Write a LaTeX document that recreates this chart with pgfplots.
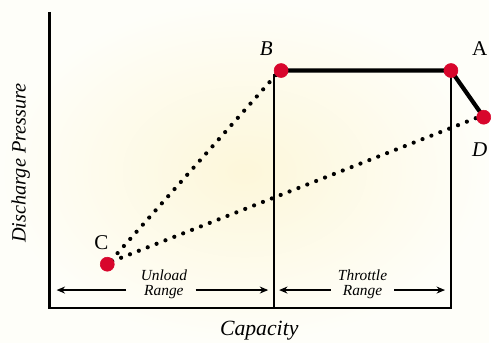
\documentclass[border=0pt]{standalone}
\usepackage{pgfplots}
\pgfplotsset{compat=1.18}
\usepackage{fontspec}
\setmainfont{Liberation Serif}
\usetikzlibrary{arrows.meta}
\definecolor{dotred}{HTML}{D8062C}
\definecolor{bgin}{HTML}{FDF7DA}
\definecolor{bgout}{HTML}{FEFEF9}
\begin{document}
\begin{tikzpicture}
\begin{axis}[
  width=348.8pt, height=244.6pt, scale only axis,
  xmin=0, xmax=492, ymin=0, ymax=345,
  hide axis, clip=false,
]
\shade[inner color=bgin, outer color=bgout] (rel axis cs:0,0) rectangle (rel axis cs:1,1);
% axis frame
\addplot[black, line width=1.8pt, line join=miter] coordinates {(50,333) (50,35) (455,35)};
\addplot[black, line width=1.3pt] coordinates {(276,35) (276,270)};
\addplot[black, line width=1.3pt] coordinates {(454,35) (454,272)};
% dotted lines
\addplot[black, line width=3pt, line cap=round, dash pattern=on 0pt off 6.8pt] coordinates {(112,83) (280,272)};
\addplot[black, line width=3pt, line cap=round, dash pattern=on 0pt off 6.8pt] coordinates {(113,82) (484,228)};
% solid thick
\addplot[black, line width=3pt] coordinates {(283,274) (454,274) (487,227)};
% points
\addplot[only marks, mark=*, mark size=5pt, dotred, mark options={draw=none, fill=dotred}] coordinates {(108,79) (283,274) (454,274) (487,227)};
% range arrows
\addplot[black, line width=0.8pt, -{Stealth[length=6pt,width=5pt]}] coordinates {(127,53) (57,53)};
\addplot[black, line width=0.8pt, -{Stealth[length=6pt,width=5pt]}] coordinates {(197,53) (270,53)};
\addplot[black, line width=0.8pt, -{Stealth[length=6pt,width=5pt]}] coordinates {(333,53) (281,53)};
\addplot[black, line width=0.8pt, -{Stealth[length=6pt,width=5pt]}] coordinates {(397,53) (448,53)};
% labels
\node[font=\fontsize{11}{10.5}\selectfont\itshape, align=center, inner sep=0pt] at (axis cs:165,59) {Unload\\Range};
\node[font=\fontsize{11}{10.5}\selectfont\itshape, align=center, inner sep=0pt] at (axis cs:365,59) {Throttle\\Range};
\node[font=\fontsize{15}{18}\selectfont] at (axis cs:102,101) {C};
\node[font=\fontsize{15}{18}\selectfont\itshape] at (axis cs:268,296) {B};
\node[font=\fontsize{15}{18}\selectfont] at (axis cs:483,296) {A};
\node[font=\fontsize{15}{18}\selectfont\itshape] at (axis cs:483,194) {D};
\node[font=\fontsize{15.5}{18}\selectfont\itshape] at (axis cs:261,12) {Capacity};
\node[font=\fontsize{14.5}{18}\selectfont\itshape, rotate=90] at (axis cs:21,181) {Discharge Pressure};
\end{axis}
\end{tikzpicture}
\end{document}
